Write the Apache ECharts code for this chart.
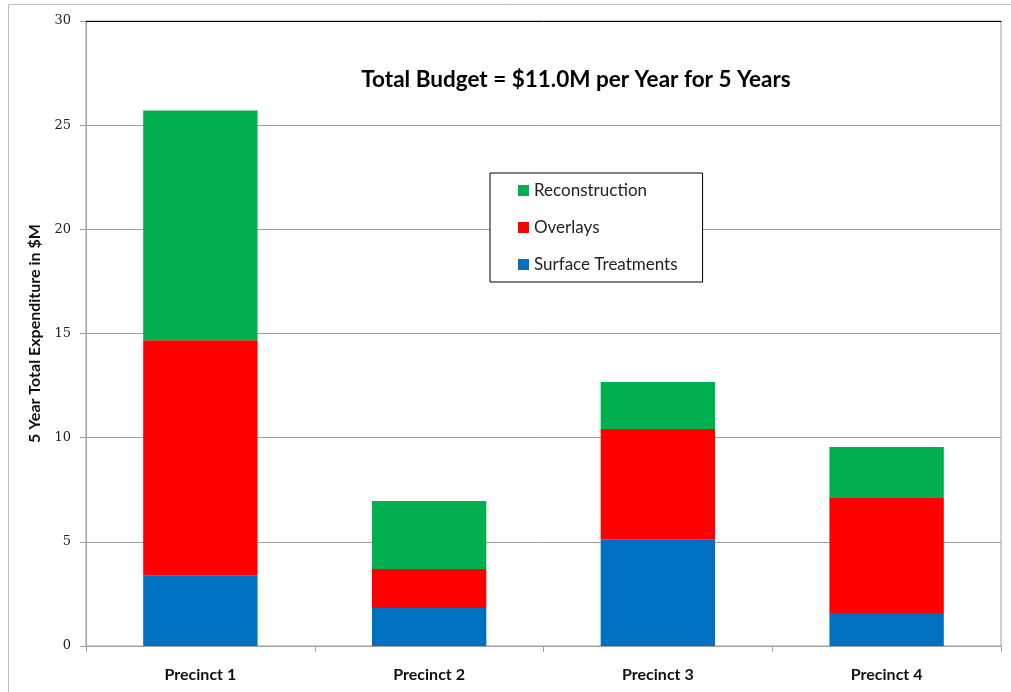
<!DOCTYPE html>
<html><head><meta charset="utf-8">
<script src="https://cdn.jsdelivr.net/npm/echarts@6/dist/echarts.min.js"></script>
<style>html,body{margin:0;padding:0;background:#fff}#c{width:1011px;height:692px}</style>
</head><body><div id="c"></div>
<script>
const categories = ['Precinct 1', 'Precinct 2', 'Precinct 3', 'Precinct 4'];
const surfaceTreatments = [3.4, 1.82, 5.1, 1.58];
const overlays = [11.28, 1.88, 5.32, 5.52];
const reconstruction = [11.02, 3.26, 2.25, 2.45];
const yTicks = [0, 5, 10, 15, 20, 25, 30];
const titleText = 'Total Budget = $11.0M per Year for 5 Years';
const yAxisName = '5 Year Total Expenditure in $M';

const chart = echarts.init(document.getElementById('c'), null, {renderer: 'canvas'});
const sans = 'Lato, "Open Sans", sans-serif';
chart.setOption({
  animation: false,
  backgroundColor: '#fff',
  title: {
    text: titleText, left: 571, top: 63, textAlign: 'center',
    textStyle: {fontFamily: sans, fontSize: 22.5, fontWeight: 'bold', color: '#000'}
  },
  legend: {
    orient: 'vertical', left: 490, top: 173,
    data: ['Reconstruction', 'Overlays', 'Surface Treatments'],
    itemWidth: 11, itemHeight: 11, itemGap: 20,
    padding: [9, 25, 9, 28],
    borderColor: '#000', borderWidth: 1, backgroundColor: '#fff',
    icon: 'rect',
    textStyle: {fontFamily: sans, fontSize: 17, color: '#222'}
  },
  graphic: [{
    type: 'rect', shape: {x: 8.5, y: 4.5, width: 1010, height: 700},
    style: {fill: 'none', stroke: '#bdbdbd', lineWidth: 1}, silent: true, z: -1
  }],
  grid: {left: 86, right: 10, top: 21, bottom: 46, show: true, borderColor: '#a0a0a0', borderWidth: 1},
  xAxis: [{
    type: 'category', data: categories,
    axisLine: {lineStyle: {color: '#a0a0a0'}},
    axisTick: {show: true, length: 6, lineStyle: {color: '#a0a0a0'}},
    axisLabel: {fontFamily: sans, fontSize: 16, fontWeight: 'bold', color: '#111', margin: 21}
  }, {
    type: 'category', data: categories, position: 'top',
    axisLine: {lineStyle: {color: '#000'}}, axisTick: {show: false}, axisLabel: {show: false}
  }],
  yAxis: {
    type: 'value', min: yTicks[0], max: yTicks[yTicks.length - 1], interval: 5,
    name: yAxisName, nameLocation: 'middle', nameGap: 43,
    nameTextStyle: {fontFamily: sans, fontSize: 16, fontWeight: 'bold', color: '#111'},
    axisLine: {show: true, lineStyle: {color: '#a0a0a0'}},
    axisTick: {show: true, length: 6, lineStyle: {color: '#a0a0a0'}},
    axisLabel: {fontFamily: '"DejaVu Serif", serif', fontSize: 13, color: '#222', margin: 15},
    splitLine: {lineStyle: {color: '#a0a0a0'}}
  },
  series: [
    {name: 'Surface Treatments', type: 'bar', stack: 't', data: surfaceTreatments, barWidth: '50%', itemStyle: {color: '#0070C0'}},
    {name: 'Overlays', type: 'bar', stack: 't', data: overlays, barWidth: '50%', itemStyle: {color: '#FF0000'}},
    {name: 'Reconstruction', type: 'bar', stack: 't', data: reconstruction, barWidth: '50%', itemStyle: {color: '#00B050'}}
  ]
});
</script></body></html>
